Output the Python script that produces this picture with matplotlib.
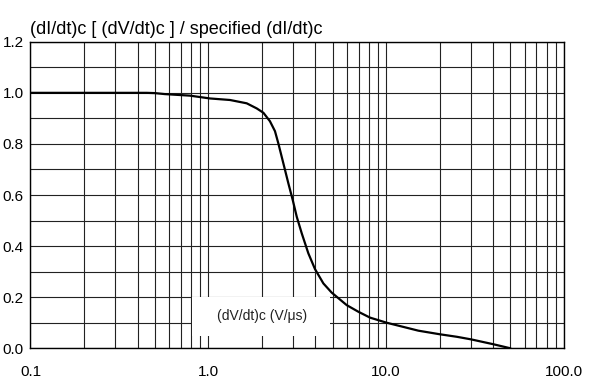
import numpy as np
import matplotlib
matplotlib.use("Agg")
import matplotlib.pyplot as plt
from matplotlib.ticker import MultipleLocator, FixedLocator, LogLocator, NullFormatter, FixedFormatter
from matplotlib.patches import Rectangle

plt.rcParams['font.family'] = ['Liberation Sans', 'DejaVu Sans']

# curve (dV/dt in V/us, ratio)
dvdt = [0.1, 0.3, 0.45, 0.5, 0.571, 0.789, 1.022, 1.324, 1.644, 1.872, 2.04, 2.22,
        2.37, 2.476, 2.642, 2.818, 2.984, 3.142, 3.352, 3.65, 3.98, 4.435, 4.94,
        6.0, 6.98, 8.12, 10.08, 11.97, 15.17, 20.0, 25.0, 30.0, 40.0, 50.0]
ratio = [1.0, 1.0, 1.0, 0.999, 0.995, 0.989, 0.978, 0.972, 0.959, 0.939, 0.922, 0.889,
         0.850, 0.802, 0.724, 0.646, 0.580, 0.515, 0.450, 0.372, 0.310, 0.254, 0.218,
         0.169, 0.143, 0.120, 0.100, 0.087, 0.069, 0.055, 0.045, 0.035, 0.016, 0.0]

x_ticks = [0.1, 1.0, 10.0, 100.0]
x_labels = ["0.1", "1.0", "10.0", "100.0"]
y_ticks = [0.0, 0.2, 0.4, 0.6, 0.8, 1.0, 1.2]

fig = plt.figure(figsize=(5.92, 3.83), dpi=100)
ax = fig.add_axes([0.0515, 0.0906, 0.9012, 0.8004])

ax.set_xscale("log")
ax.set_xlim(0.1, 100)
ax.set_ylim(0, 1.2)

ax.xaxis.set_major_locator(FixedLocator(x_ticks))
ax.xaxis.set_major_formatter(FixedFormatter(x_labels))
ax.xaxis.set_minor_locator(LogLocator(base=10, subs=np.arange(2, 10)))
ax.xaxis.set_minor_formatter(NullFormatter())
ax.yaxis.set_major_locator(FixedLocator(y_ticks))
ax.yaxis.set_major_formatter(plt.FuncFormatter(lambda v, p: f"{v:.1f}"))
ax.yaxis.set_minor_locator(MultipleLocator(0.1))

ax.grid(which="both", color="#222222", linewidth=0.8)
ax.set_axisbelow(True)
ax.tick_params(which="both", length=0, labelsize=11, colors="black")
ax.tick_params(axis="x", pad=12)
ax.tick_params(axis="y", pad=5)
for s in ax.spines.values():
    s.set_linewidth(1.0)
    s.set_color("black")

# white label box over the grid
ax.add_patch(Rectangle((0.81, 0.05), 4.83 - 0.81, 0.15, facecolor="white",
                       edgecolor="none", zorder=2))
ax.text(2.0, 0.127, "(dV/dt)c (V/\u03bcs)", fontsize=10, ha="center", va="center",
        color="#222222", zorder=3)

ax.plot(dvdt, ratio, color="black", linewidth=1.6, zorder=4,
        solid_joinstyle="round", solid_capstyle="round")

ax.text(0.0, 1.012, "(dI/dt)c [ (dV/dt)c ] / specified (dI/dt)c", transform=ax.transAxes,
        fontsize=13, ha="left", va="bottom")

fig.savefig("out.png", dpi=100)
